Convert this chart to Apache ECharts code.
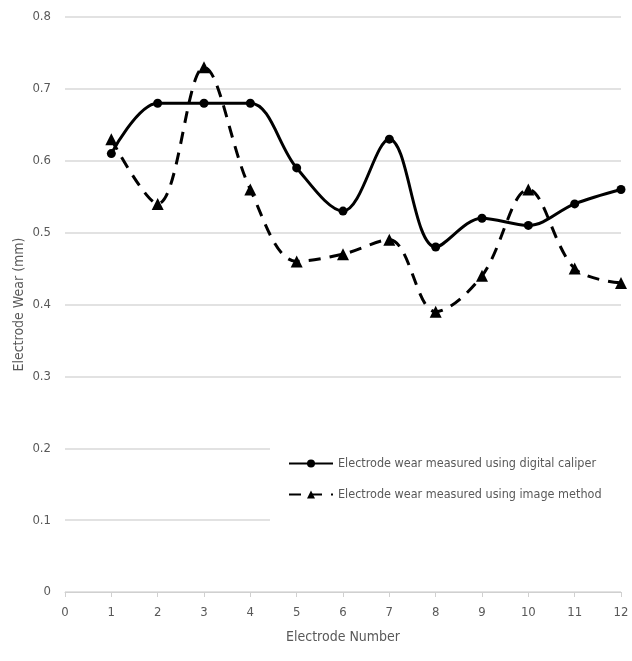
<!DOCTYPE html>
<html>
<head>
<meta charset="utf-8">
<script src="https://cdn.jsdelivr.net/npm/echarts@6/dist/echarts.min.js"></script>
<style>
  html, body { margin: 0; padding: 0; background: #fff; }
  #main { width: 632px; height: 661px; }
</style>
</head>
<body>
<div id="main"></div>
<script>
// electrode numbers
var electrodes = [1, 2, 3, 4, 5, 6, 7, 8, 9, 10, 11, 12];
// wear values (mm)
var caliperWear = [0.61, 0.68, 0.68, 0.68, 0.59, 0.53, 0.63, 0.48, 0.52, 0.51, 0.54, 0.56];
var imageWear = [0.63, 0.54, 0.73, 0.56, 0.46, 0.47, 0.49, 0.39, 0.44, 0.56, 0.45, 0.43];
var seriesNames = ['Electrode wear measured using digital caliper', 'Electrode wear measured using image method'];

function pairs(vals) {
  return electrodes.map(function (x, i) { return [x, vals[i]]; });
}

var font = "'Liberation Sans Narrow', 'DejaVu Sans Condensed', sans-serif";
var textGray = '#595959';

var myChart = echarts.init(document.getElementById('main'));
var option = {
  backgroundColor: '#fff',
  animation: false,
  textStyle: { fontFamily: font },
  grid: { left: 65, right: 11, top: 17, bottom: 69, containLabel: false, outerBoundsMode: 'none' },
  // white box behind the legend hides the gridlines there
  graphic: [{
    type: 'rect',
    z: 1,
    shape: { x: 270, y: 432, width: 362, height: 108 },
    style: { fill: '#fff' }
  }],
  legend: {
    orient: 'vertical',
    left: 283,
    top: 452,
    itemGap: 18,
    itemWidth: 44,
    itemHeight: 10,
    z: 5,
    textStyle: { color: textGray, fontSize: 12.5, fontFamily: font },
    data: seriesNames
  },
  xAxis: {
    type: 'value',
    min: 0,
    max: 12,
    interval: 1,
    name: 'Electrode Number',
    nameLocation: 'middle',
    nameGap: 38,
    nameMoveOverlap: false,
    nameTextStyle: { color: textGray, fontSize: 14, fontFamily: font },
    axisLine: { lineStyle: { color: '#d0d0d0', width: 1 } },
    axisTick: { show: true, length: 5, lineStyle: { color: '#d0d0d0' } },
    axisLabel: { color: textGray, fontSize: 13, margin: 14, fontFamily: font },
    splitLine: { show: false }
  },
  yAxis: {
    type: 'value',
    min: 0,
    max: 0.8,
    interval: 0.1,
    name: 'Electrode Wear (mm)',
    nameLocation: 'middle',
    nameGap: 39,
    nameMoveOverlap: false,
    nameTextStyle: { color: textGray, fontSize: 14, fontFamily: font },
    axisLine: { show: false },
    axisTick: { show: false },
    axisLabel: { color: textGray, fontSize: 13, margin: 14, fontFamily: font },
    splitLine: { lineStyle: { color: '#d9d9d9', width: 1.5 } }
  },
  series: [
    {
      name: seriesNames[0],
      type: 'line',
      smooth: 0.35,
      z: 3,
      data: pairs(caliperWear),
      symbol: 'circle',
      symbolSize: 9,
      itemStyle: { color: '#000' },
      lineStyle: { color: '#000', width: 3 }
    },
    {
      name: seriesNames[1],
      type: 'line',
      smooth: 0.35,
      z: 3,
      data: pairs(imageWear),
      symbol: 'triangle',
      symbolSize: 12,
      itemStyle: { color: '#000' },
      lineStyle: { color: '#000', width: 3, type: [12, 9] }
    }
  ]
};
myChart.setOption(option);
</script>
</body>
</html>
